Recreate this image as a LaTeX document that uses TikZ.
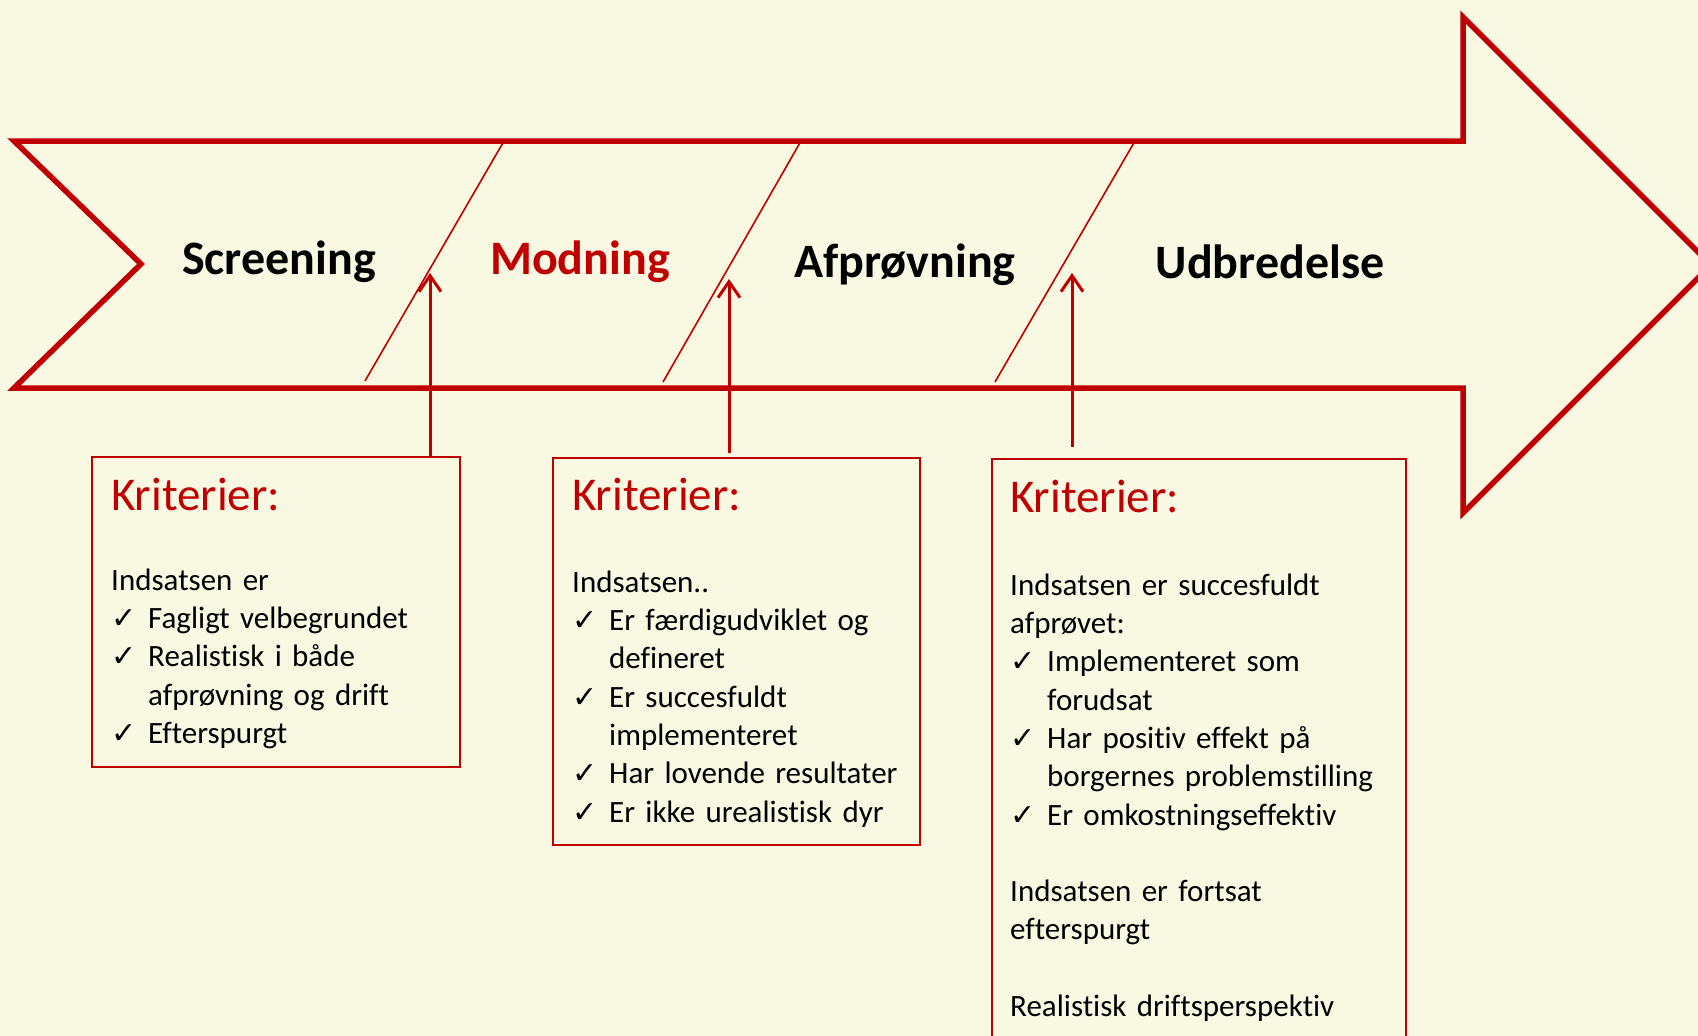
\documentclass[tikz,border=0pt]{standalone}
\usepackage{fontspec}
\setmainfont[RawFeature={-liga;-clig;-dlig;-calt}]{Carlito}
\newfontfamily\symfont{DejaVu Sans}
\usetikzlibrary{arrows.meta,calc}
\definecolor{dred}{RGB}{192,0,0}
\definecolor{bgc}{RGB}{249,248,226}
\newcommand\chk{\makebox[37pt][l]{\symfont\fontsize{30}{30}\selectfont ✓}}
\newcommand\ind{\hspace*{37pt}}
\begin{document}
\begin{tikzpicture}[x=1pt,y=-1pt,
  phase/.style={font=\fontsize{48}{58}\selectfont\bfseries, anchor=base, inner sep=0pt},
  critbox/.style={draw=dred, line width=2pt, anchor=north west, inner sep=0pt},
  crittitle/.style={font=\fontsize{47}{56}\selectfont, text=dred, anchor=base west, inner sep=0pt},
  critbody/.style={font=\fontsize{31}{38.3}\selectfont, anchor=north west, inner sep=0pt, align=left},
  divider/.style={dred, line width=1.6pt},
  conn/.style={dred, line width=3pt, -{Straight Barb[length=16pt,width=22pt]}}]
\clip (0,0) rectangle (1698,1036);
\fill[bgc] (0,0) rectangle (1698,1036);

% main arrow
\draw[dred, line width=5.5pt, line join=miter]
  (14,141) -- (1463,141) -- (1463,17) -- (1711,265) -- (1463,513) -- (1463,388)
  -- (14,388) -- (141,264) -- cycle;

% phase dividers
\draw[divider] (504,141) -- (365,381);
\draw[divider] (801,141) -- (663,382);
\draw[divider] (1135,141) -- (995,382);

% phase labels
\node[phase] (screening) at (279,274) {Screening};
\node[phase, text=dred] (modning) at (580,274) {Modning};
\node[phase] (afproevning) at (905,277) {Afprøvning};
\node[phase] (udbredelse) at (1270,278) {Udbredelse};

% boxes
\node[critbox, minimum width=368pt, minimum height=310pt] (b1) at (91,456) {};
\node[critbox, minimum width=367pt, minimum height=387pt] (b2) at (552,457) {};
\node[critbox, minimum width=414pt, minimum height=620pt] (b3) at (991,458) {};

% titles
\node[crittitle] (k1) at (111,510) {Kriterier:};
\node[crittitle] (k2) at (572,510) {Kriterier:};
\node[crittitle] (k3) at (1010,512) {Kriterier:};

% bodies
\node[critbody, text width=345pt] (t1) at (111,563.2) {\strut Indsatsen er\\
\chk Fagligt velbegrundet\\
\chk Realistisk i både\\
\ind afprøvning og drift\\
\chk Efterspurgt};

\node[critbody, text width=345pt] (t2) at (572,565.2) {\strut Indsatsen..\\
\chk Er færdigudviklet og\\
\ind defineret\\
\chk Er succesfuldt\\
\ind implementeret\\
\chk Har lovende resultater\\
\chk Er ikke urealistisk dyr};

\node[critbody, text width=395pt] (t3) at (1010,568.2) {\strut Indsatsen er succesfuldt\\
afprøvet:\\
\chk Implementeret som\\
\ind forudsat\\
\chk Har positiv effekt på\\
\ind borgernes problemstilling\\
\chk Er omkostningseffektiv\\[38.3pt]
Indsatsen er fortsat\\
efterspurgt\\[38.3pt]
Realistisk driftsperspektiv};

% connectors
\coordinate (p1) at (430,273);
\coordinate (p2) at (729,279);
\coordinate (p3) at (1072,273);
\draw[conn] (b1.north -| p1) -- (p1);
\draw[conn] ([yshift=4pt]b2.north -| p2) -- (p2);
\draw[conn] ([yshift=11pt]b3.north -| p3) -- (p3);
\end{tikzpicture}
\end{document}
